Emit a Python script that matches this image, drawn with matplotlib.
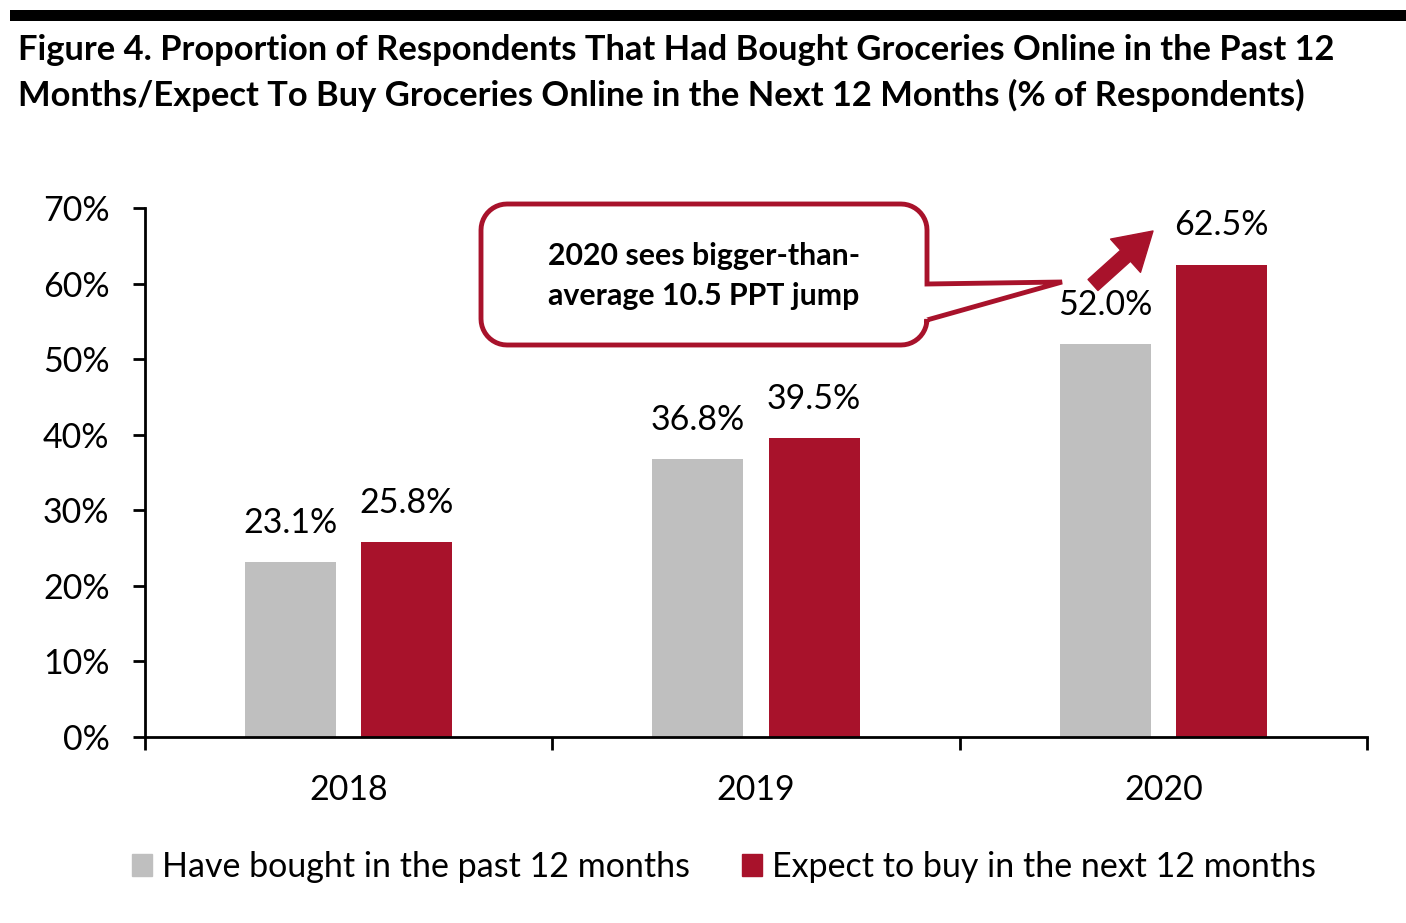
import numpy as np
import matplotlib
matplotlib.use("Agg")
import matplotlib.pyplot as plt
from matplotlib.patches import Polygon, Rectangle

plt.rcParams['font.family'] = ['Lato', 'DejaVu Sans']

# ---- data ----
years = ["2018", "2019", "2020"]
bought_past = [23.1, 36.8, 52.0]
expect_next = [25.8, 39.5, 62.5]
series_names = ["Have bought in the past 12 months", "Expect to buy in the next 12 months"]
yticks = [0, 10, 20, 30, 40, 50, 60, 70]
title = ("Figure 4. Proportion of Respondents That Had Bought Groceries Online in the Past 12\n"
         "Months/Expect To Buy Groceries Online in the Next 12 Months (% of Respondents)")
callout = "2020 sees bigger-than-\naverage 10.5 PPT jump"

GREY = "#BFBFBF"
RED = "#A8122B"
W, H = 1406, 923
FS = 24.5

fig = plt.figure(figsize=(W / 100, H / 100), dpi=100)
ax = fig.add_axes([145 / W, 1 - 737 / H, (1367 - 145) / W, (737 - 208) / H])

x = np.arange(len(years))
bw = 0.2234
off = 0.1424
ax.bar(x - off, bought_past, width=bw, color=GREY, label=series_names[0])
ax.bar(x + off, expect_next, width=bw, color=RED, label=series_names[1])

for xi, v in zip(x, bought_past):
    ax.text(xi - off, v + 5.2, f"{v:.1f}%", ha="center", va="center", fontsize=FS)
for xi, v in zip(x, expect_next):
    ax.text(xi + off, v + 5.2, f"{v:.1f}%", ha="center", va="center", fontsize=FS)

ax.set_xlim(-0.5, len(years) - 0.5)
ax.set_ylim(0, 70)
ax.set_yticks(yticks)
ax.set_yticklabels([f"{t}%" for t in yticks], fontsize=FS)
ax.set_xticks(np.arange(len(years) + 1) - 0.5)
ax.set_xticklabels([])
ax.set_xticks(x, minor=True)
ax.set_xticklabels(years, minor=True, fontsize=FS)
ax.tick_params(axis="x", which="minor", length=0, pad=27)
ax.tick_params(axis="x", which="major", length=9, width=2, direction="out")
ax.tick_params(axis="y", length=9, width=2, direction="out", pad=16.5)
for s in ["top", "right"]:
    ax.spines[s].set_visible(False)
for s in ["left", "bottom"]:
    ax.spines[s].set_linewidth(2)

# top black bar
fig.add_artist(Rectangle((10 / W, 1 - 21 / H), (W - 10) / W, 11 / H,
                         transform=fig.transFigure, color="black", lw=0))
fig.text(18 / W, 1 - 50 / H, title.split("\n")[0], ha="left", va="center", fontsize=24.8,
         fontweight="bold")
fig.text(18 / W, 1 - 95 / H, title.split("\n")[1], ha="left", va="center", fontsize=24.8,
         fontweight="bold")

# callout shape in image pixel coords (y down)
def px(pts):
    return [(xx / W, 1 - yy / H) for xx, yy in pts]

x0, y0, x1, y1, r = 481, 204, 927, 345, 26
def arc(cx, cy, a0, a1, n=12):
    ang = np.linspace(np.radians(a0), np.radians(a1), n)
    return [(cx + r * np.cos(a), cy + r * np.sin(a)) for a in ang]

pts = []
pts += arc(x0 + r, y0 + r, 180, 270)
pts += arc(x1 - r, y0 + r, 270, 360)
pts += [(x1, 284), (1062, 282), (x1, 320)]
pts += arc(x1 - r, y1 - r, 0, 90)
pts += arc(x0 + r, y1 - r, 90, 180)
fig.add_artist(Polygon(px(pts), closed=True, transform=fig.transFigure,
                       facecolor="white", edgecolor=RED, lw=3.5, joinstyle="miter"))
fig.text(704 / W, 1 - 256 / H, callout.split("\n")[0], ha="center", va="center",
         fontsize=21.8, fontweight="bold")
fig.text(704 / W, 1 - 296 / H, callout.split("\n")[1], ha="center", va="center",
         fontsize=21.8, fontweight="bold")

# red arrow
ax.annotate("", xy=(1153, H - 231), xytext=(1093, H - 285),
            xycoords="figure pixels", textcoords="figure pixels",
            arrowprops=dict(arrowstyle="simple,head_width=1.15,head_length=0.95,tail_width=0.38",
                            color=RED, mutation_scale=28, shrinkA=0, shrinkB=0))

# legend
handles = [Rectangle((0, 0), 1, 1, color=GREY), Rectangle((0, 0), 1, 1, color=RED)]
fig.legend(handles, series_names, loc="center", bbox_to_anchor=(724 / W, 1 - 867 / H),
           ncol=2, frameon=False, fontsize=FS, handlelength=0.6, handleheight=0.6,
           handletextpad=0.3, columnspacing=1.5, borderpad=0, borderaxespad=0)

fig.savefig("out.png", dpi=100)
